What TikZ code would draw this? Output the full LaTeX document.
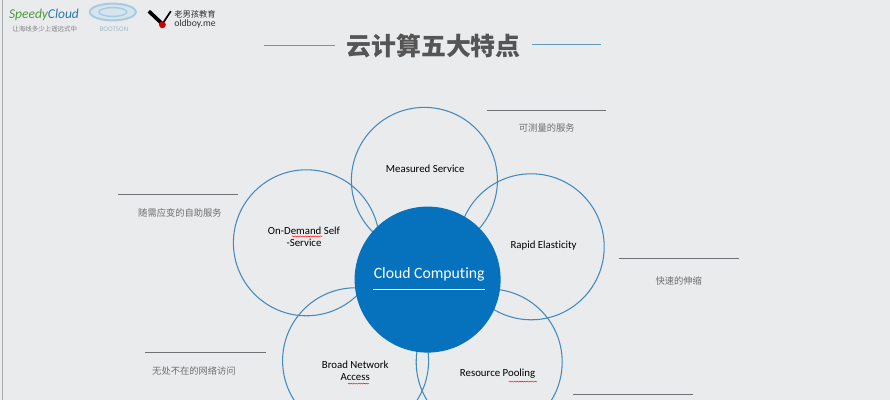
\documentclass[tikz,border=0pt]{standalone}
\usepackage{fontspec}
\setmainfont[Ligatures=NoCommon]{Carlito}
\newfontfamily\cjk{Noto Sans CJK SC}
\usepackage{xcolor}
\usepackage{tikz}
\usetikzlibrary{decorations.pathmorphing,shapes.geometric}
\definecolor{pageGrey}{HTML}{EAEBED}
\definecolor{ringBlue}{HTML}{4389BC}
\definecolor{hubBlue}{HTML}{0671BD}
\definecolor{ruleBlue}{HTML}{5D9CBB}
\definecolor{ruleGrey}{HTML}{707275}
\definecolor{titleGrey}{HTML}{555555}
\definecolor{noteGrey}{HTML}{6E6E6E}
\definecolor{logoGreen}{HTML}{4F9A3C}
\definecolor{logoBlue}{HTML}{2A78A8}
\definecolor{swirlBlue}{HTML}{A9CBDD}

\begin{document}
\begin{tikzpicture}[
    font=\fontsize{7.7pt}{8.6pt}\selectfont,
    ring/.style={draw=ringBlue, circle, line width=0.75pt, minimum size=3.65cm, inner sep=0pt, fill=none},
    hub/.style={circle, fill=hubBlue, minimum size=3.65cm, inner sep=0pt},
    petal/.style={align=center, text=black, inner sep=0pt},
    note/.style={text=noteGrey, inner sep=0pt, font=\cjk\fontsize{6.6pt}{8pt}\selectfont},
    noterule/.style={draw=ruleGrey, line width=0.5pt},
    titlerule/.style={draw=ruleBlue, line width=0.8pt},
    swirl/.style={ellipse, draw=swirlBlue, inner sep=0pt},
    squiggle/.style={draw=red, line width=0.3pt, decorate, decoration={snake, amplitude=0.35pt, segment length=1.8pt}}
]
\useasboundingbox (0,0) rectangle (22.25,10);
\clip (0,0) rectangle (22.25,10);
\fill[pageGrey] (0,0) rectangle (22.25,10);
\draw[ruleGrey!60, line width=0.8pt] (0.06,0) -- (0.06,10);

% logos
\node[inner sep=0pt, text=logoGreen, font=\fontsize{9.6pt}{10pt}\itshape] (speedy) at (1.1,9.62) {Speedy\textcolor{logoBlue}{Cloud}};
\node[inner sep=0pt, text=gray, font=\cjk\fontsize{4.6pt}{5pt}\selectfont] (slogan) at (1.12,9.28) {让海线多少上遥远式中};
\node[swirl, line width=1.4pt, fill=swirlBlue!50, minimum width=1.15cm, minimum height=0.42cm] (swirlout) at (2.82,9.7) {};
\node[swirl, line width=1pt, minimum width=0.7cm, minimum height=0.22cm] (swirlin) at (2.82,9.7) {};
\node[inner sep=0pt, text=swirlBlue!80!gray, font=\fontsize{5pt}{5pt}\selectfont] (swirltext) at (2.85,9.28) {BOOTSON};
\coordinate (vleft) at (3.72,9.72);
\coordinate (vtip) at (4.06,9.4);
\coordinate (vright) at (4.27,9.72);
\draw[black, line width=2.6pt] (vleft) -- (vtip);
\draw[black, line width=1.2pt] (vtip) -- (vright);
\node[circle, fill=red!80!black, minimum size=0.17cm, inner sep=0pt] (vdot) at (4.06,9.38) {};
\node[inner sep=0pt, anchor=west, text=black!80, font=\cjk\fontsize{5.9pt}{6pt}\selectfont] (oldcn) at (4.35,9.63) {老男孩教育};
\node[inner sep=0pt, anchor=west, text=black!80, font=\fontsize{6.9pt}{7pt}\selectfont] (oldurl) at (4.35,9.39) {oldboy.me};

% title
\node[inner sep=0pt, text=titleGrey, font=\cjk\bfseries\fontsize{17.7pt}{18pt}\selectfont] (title) at (10.84,8.85) {云计算五大特点};
\coordinate (tl1) at (6.6,8.8625);
\coordinate (tl2) at (8.38,8.8625);
\coordinate (tr1) at (13.3,8.8875);
\coordinate (tr2) at (15.03,8.8875);
\draw[titlerule] (tl1) -- (tl2);
\draw[titlerule] (tr1) -- (tr2);

% outer rings
\node[ring] (measured) at (10.61,5.49) {};
\node[ring] (ondemand) at (7.66,3.93) {};
\node[ring] (rapid) at (13.28,3.83) {};
\node[ring] (broad) at (8.89,0.98) {};
\node[ring] (pooling) at (12.23,0.95) {};

\node[hub] (cloud) at (10.69,3.01) {};
\node[text=white, inner sep=0pt, font=\fontsize{11.2pt}{12pt}\selectfont] (cloudtext) at (10.73,3.14) {Cloud Computing};
\coordinate (cl1) at (9.33,2.76);
\coordinate (cl2) at (12.13,2.76);
\draw[white, line width=0.6pt] (cl1) -- (cl2);

\node[petal] (measuredtext) at (10.63,5.79) {Measured Service};
\node[petal] (ondemandtext) at (7.6,4.07) {On-Demand Self\\-Service};
\node[petal] (rapidtext) at (13.59,3.87) {Rapid Elasticity};
\node[petal] (broadtext) at (8.88,0.74) {Broad Network\\Access};
\node[petal] (poolingtext) at (12.44,0.66) {Resource Pooling};

% spell-check marks
\coordinate (s1a) at (7.3,4.09);
\coordinate (s1b) at (8.05,4.09);
\coordinate (s2a) at (8.7,0.41);
\coordinate (s2b) at (9.23,0.41);
\coordinate (s3a) at (12.72,0.46);
\coordinate (s3b) at (13.43,0.46);
\draw[squiggle] (s1a) -- (s1b);
\draw[squiggle] (s2a) -- (s2b);
\draw[squiggle] (s3a) -- (s3b);

% notes
\node[note] (n1) at (13.67,6.8) {可测量的服务};
\node[note] (n2) at (4.5,4.67) {随需应变的自助服务};
\node[note] (n3) at (4.85,0.72) {无处不在的网络访问};
\node[note] (n4) at (16.97,2.97) {快速的伸缩};

\coordinate (r1a) at (12.17,7.25);
\coordinate (r1b) at (15.15,7.25);
\coordinate (r2a) at (2.95,5.14);
\coordinate (r2b) at (5.95,5.14);
\coordinate (r3a) at (3.63,1.2);
\coordinate (r3b) at (6.65,1.2);
\coordinate (r4a) at (15.47,3.54);
\coordinate (r4b) at (18.47,3.54);
\coordinate (r5a) at (14.33,0.13);
\coordinate (r5b) at (17.33,0.13);
\draw[noterule] (r1a) -- (r1b);
\draw[noterule] (r2a) -- (r2b);
\draw[noterule] (r3a) -- (r3b);
\draw[noterule] (r4a) -- (r4b);
\draw[noterule] (r5a) -- (r5b);
\end{tikzpicture}
\end{document}
